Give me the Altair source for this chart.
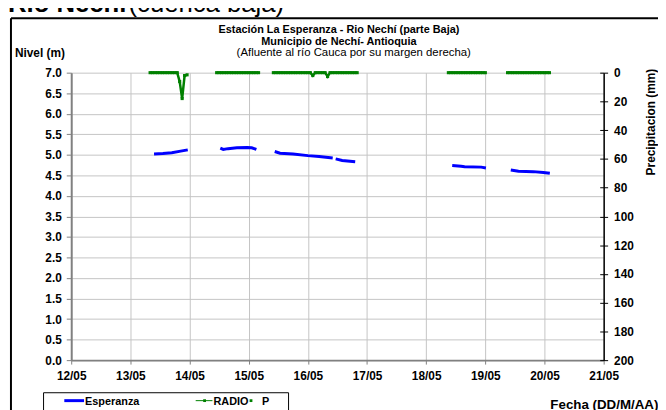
import altair as alt
import pandas as pd

FONT = "Liberation Sans"

# ---- Esperanza water level (m); x = day of May (fractional) ----
esp_days = [
    [13.40, 13.55, 13.70, 13.85, 13.97],
    [14.52, 14.57, 14.65, 14.80, 14.97, 15.05, 15.13],
    [15.44, 15.53, 15.75, 16.00, 16.19, 16.42],
    [16.47, 16.58, 16.80],
    [18.44, 18.59, 18.65, 18.93, 19.01],
    [19.43, 19.56, 19.81, 19.98, 20.09],
]
esp_levels = [
    [5.02, 5.03, 5.05, 5.09, 5.12],
    [5.16, 5.13, 5.15, 5.17, 5.18, 5.17, 5.13],
    [5.08, 5.04, 5.02, 4.98, 4.96, 4.92],
    [4.90, 4.86, 4.83],
    [4.74, 4.72, 4.71, 4.70, 4.68],
    [4.63, 4.60, 4.59, 4.57, 4.55],
]

# ---- RADIO precipitation (mm), hourly readings per segment ----
radio_start_day = [13, 14, 15, 18, 19]
radio_start_hour = [8, 11, 10, 9, 9]
radio_mm = [
    [0, 0, 0, 0, 0, 0, 0, 0, 0, 0, 0, 0, 6.2, 18.0, 2.0, 1.5],
    [0, 0, 0, 0, 0, 0, 0, 0, 0, 0, 0, 0, 0, 0, 0, 0, 0, 0],
    [0, 0, 0, 0, 0, 0, 0, 0, 0, 0, 0, 0, 0, 0, 0, 0, 2.0, 0, 0, 0, 0, 0, 2.7, 0,
     0, 0, 0, 0, 0, 0, 0, 0, 0, 0, 0],
    [0, 0, 0, 0, 0, 0, 0, 0, 0, 0, 0, 0, 0, 0, 0, 0],
    [0, 0, 0, 0, 0, 0, 0, 0, 0, 0, 0, 0, 0, 0, 0, 0, 0, 0],
]

x_ticks = [12, 13, 14, 15, 16, 17, 18, 19, 20, 21]
level_ticks = [i / 2 for i in range(15)]
precip_ticks = [0, 20, 40, 60, 80, 100, 120, 140, 160, 180, 200]

esp_rows = []
for s, (ds, ls) in enumerate(zip(esp_days, esp_levels)):
    for d, l in zip(ds, ls):
        esp_rows.append({"day": d, "level": l, "seg": s})
esp_df = pd.DataFrame(esp_rows)

radio_rows = []
for s, (d0, h0, vals) in enumerate(zip(radio_start_day, radio_start_hour, radio_mm)):
    for i, v in enumerate(vals):
        radio_rows.append({"day": d0 + (h0 + i) / 24.0, "mm": v, "seg": s})
radio_df = pd.DataFrame(radio_rows)

W, H = 539, 291
xscale = alt.Scale(domain=[12, 21], nice=False, zero=False)

xenc = alt.X(
    "day:Q",
    scale=xscale,
    axis=alt.Axis(
        values=x_ticks, title=None, grid=True, gridColor="#c4c4c4",
        labelExpr="format(datum.value, 'd') + '/05'", labelFlush=False,
        domainColor="#808080", domainWidth=2, tickColor="#808080", tickSize=4,
        labelPadding=7, labelFont=FONT, labelFontSize=12, labelFontWeight="bold",
        labelColor="black",
    ),
)

blue = alt.Chart(esp_df).mark_line(color="#0000ff", strokeWidth=3).encode(
    x=xenc,
    y=alt.Y(
        "level:Q",
        scale=alt.Scale(domain=[0, 7], nice=False),
        axis=alt.Axis(
            orient="left", values=level_ticks, format=".1f", title=None,
            grid=True, gridColor="#c4c4c4", domainColor="#808080", domainWidth=2,
            tickColor="#808080", tickSize=5, labelPadding=5, labelFont=FONT,
            labelFontSize=12, labelFontWeight="bold", labelColor="black",
        ),
    ),
    detail="seg:N",
)

green = alt.Chart(radio_df).mark_line(
    color="#008000", strokeWidth=2.5,
    point=alt.OverlayMarkDef(shape="square", size=10, color="#008000", filled=True),
).encode(
    x=alt.X("day:Q", scale=xscale),
    y=alt.Y(
        "mm:Q",
        scale=alt.Scale(domain=[0, 200], reverse=True, nice=False),
        axis=alt.Axis(
            orient="right", values=precip_ticks, title=None, grid=False,
            domainColor="black", domainWidth=1.5, tickColor="black", tickSize=4,
            labelPadding=6, labelFont=FONT, labelFontSize=12,
            labelFontWeight="bold", labelColor="black",
        ),
    ),
    detail="seg:N",
)

# inner half of the crossing ticks on the precipitation axis
green_ticks_in = alt.Chart(radio_df).mark_point(opacity=0).encode(
    x=alt.X("day:Q", scale=xscale),
    y=alt.Y(
        "mm:Q",
        scale=alt.Scale(domain=[0, 200], reverse=True, nice=False),
        axis=alt.Axis(
            orient="right", values=precip_ticks, title=None, grid=False,
            domain=False, labels=False, tickColor="black", tickSize=4, offset=-4,
        ),
    ),
)


def txt(t, x, y, size=12, weight="bold", align="left", angle=0, baseline="alphabetic"):
    return alt.Chart(pd.DataFrame({"t": [t]})).mark_text(
        font=FONT, fontSize=size, fontWeight=weight, align=align, angle=angle,
        baseline=baseline, color="black",
    ).encode(x=alt.value(x), y=alt.value(y), text="t:N")


one = pd.DataFrame({"a": [0]})

frame_left = alt.Chart(one).mark_rule(color="black", strokeWidth=2).encode(
    x=alt.value(-61), y=alt.value(-55), y2=alt.value(H + 60))
frame_top = alt.Chart(one).mark_rule(color="black", strokeWidth=2).encode(
    x=alt.value(-61), x2=alt.value(W + 60), y=alt.value(-55))

legend_box = alt.Chart(one).mark_rect(fill="white", stroke="black", strokeWidth=1).encode(
    x=alt.value(-28), x2=alt.value(220), y=alt.value(324), y2=alt.value(345))
leg_blue = alt.Chart(one).mark_rule(color="#0000ff", strokeWidth=3).encode(
    x=alt.value(-7), x2=alt.value(13), y=alt.value(332))
leg_green = alt.Chart(one).mark_rule(color="#008000", strokeWidth=1).encode(
    x=alt.value(126), x2=alt.value(143), y=alt.value(332))
leg_gpt = alt.Chart(one).mark_point(
    shape="square", size=8, filled=True, color="#008000", opacity=1).encode(
    x=alt.value(135), y=alt.value(332))
leg_ppt = alt.Chart(one).mark_point(
    shape="square", size=8, filled=True, color="#008000", opacity=1).encode(
    x=alt.value(182), y=alt.value(332))

texts = [
    txt("Río Nechí", -64, -61, size=26, weight="bold"),
    txt("(cuenca baja)", 58, -61, size=26, weight="normal"),
    txt("Estación La Esperanza - Rio Nechí  (parte Baja)", 271, -40, size=11, align="center"),
    txt("Municipio de Nechí- Antioquia", 271, -28, size=11, align="center"),
    txt("(Afluente al río Cauca por su margen derecha)", 286, -17, size=11.5,
        weight="normal", align="center"),
    txt("Nivel (m)", -57, -16, size=12),
    txt("Precipitacion (mm)", 587, 50, size=12, align="center", angle=270,
        baseline="middle"),
    txt("Fecha (DD/M/AA)", 485, 340, size=13.5),
    txt("Esperanza", 14, 336, size=11),
    txt("RADIO", 144, 336, size=11),
    txt("P", 193, 336, size=11),
]

chart = alt.layer(
    frame_left, frame_top, blue, green, green_ticks_in, legend_box, leg_blue,
    leg_green, leg_gpt, leg_ppt, *texts,
).resolve_scale(y="independent").properties(
    width=W, height=H,
    autosize=alt.AutoSizeParams(type="none"),
    padding={"left": 64, "top": 63, "right": 55, "bottom": 48},
    background="white",
).configure_view(stroke=None)

chart.save("out.html", embed_options={"renderer": "svg", "actions": False})
